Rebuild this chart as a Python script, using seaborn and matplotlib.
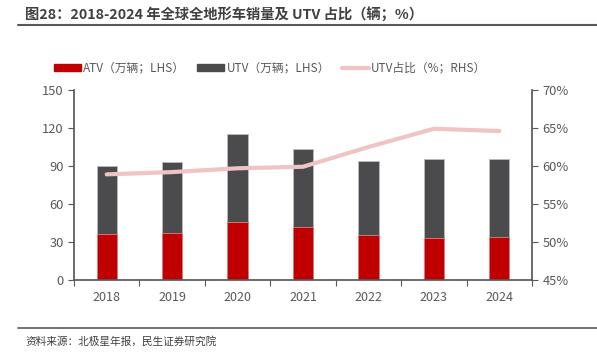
import numpy as np
import pandas as pd
import seaborn as sns
import matplotlib.pyplot as plt
from matplotlib.patches import Patch
from matplotlib.lines import Line2D
from matplotlib.ticker import FuncFormatter

# Data
years = ["2018", "2019", "2020", "2021", "2022", "2023", "2024"]
atv = [36.6, 37.4, 46.0, 41.6, 35.3, 33.2, 33.7]
total = [89.8, 92.9, 115.2, 103.1, 94.2, 95.3, 95.8]
utv_share = [58.9, 59.2, 59.7, 59.9, 62.5, 64.9, 64.6]

df = pd.DataFrame({"year": years, "atv": atv, "total": total, "share": utv_share})
df["pos"] = np.arange(len(years))

sns.set_theme(style="white")
plt.rcParams["font.family"] = ["Noto Sans CJK SC", "DejaVu Sans"]

red = "#C00000"
dark = "#4B4B4D"
pink = "#F0C4C4"
grey = "#595959"

fig = plt.figure(figsize=(5.97, 3.61), dpi=100)
ax = fig.add_axes([74 / 597, 1 - 280 / 361, (532 - 74) / 597, 190 / 361])

# stacked bars: total (UTV on top) then ATV over it
sns.barplot(data=df, x="year", y="total", color=dark, width=0.31, ax=ax,
            saturation=1, edgecolor="#BBBBBB", linewidth=0.6)
sns.barplot(data=df, x="year", y="atv", color=red, width=0.31, ax=ax,
            saturation=1, edgecolor="#E08080", linewidth=0.6)

ax.set_ylim(0, 150)
ax.set_yticks(range(0, 151, 30))
ax.set_xlim(-0.5, len(years) - 0.5)
ax.set_xlabel("")
ax.set_ylabel("")

ax2 = ax.twinx()
sns.lineplot(data=df, x="pos", y="share", color=pink, linewidth=3, ax=ax2)
ax2.set_ylim(45, 70)
ax2.set_yticks(range(45, 71, 5))
ax2.yaxis.set_major_formatter(FuncFormatter(lambda v, p: f"{v:.0f}%"))
ax2.set_xlim(-0.5, len(years) - 0.5)
ax2.set_xlabel("")
ax2.set_ylabel("")

for a in (ax, ax2):
    a.spines["top"].set_visible(False)
    a.grid(False)

ax.spines["left"].set_color(grey)
ax.spines["bottom"].set_color(grey)
ax.spines["right"].set_visible(False)
ax2.spines["right"].set_color(grey)
ax2.spines["left"].set_visible(False)
ax2.spines["bottom"].set_visible(False)

ax.tick_params(axis="y", direction="out", length=4, color=grey, labelcolor=grey,
               labelsize=9.3, left=True, width=0.8)
ax2.tick_params(axis="y", direction="out", length=4, color=grey, labelcolor=grey,
                labelsize=9.3, right=True, width=0.8)
ax.tick_params(axis="x", which="major", length=0, labelcolor=grey, labelsize=9, pad=8)
ax.set_xticks(np.arange(-0.5, len(years)), minor=True)
ax.tick_params(axis="x", which="minor", direction="out", length=4, color=grey,
               bottom=True, width=0.8)

# legend
handles = [Patch(color=red), Patch(color=dark), Line2D([], [], color=pink, linewidth=3)]
labels = ["ATV（万辆；LHS）", "UTV（万辆；LHS）", "UTV占比（%；RHS）"]
fig.legend(handles, labels, loc="center", bbox_to_anchor=(270 / 597, 1 - 68 / 361), ncol=3,
           frameon=False, fontsize=8.5, handlelength=2.3, handleheight=0.55,
           handletextpad=0.2, columnspacing=1.0, labelcolor=grey)

# title and source
fig.text(25 / 597, 1 - 15 / 361, "图28：2018-2024 年全球全地形车销量及 UTV 占比（辆；%）",
         fontsize=10.3, fontweight="bold", color="#404040", va="center", ha="left")
fig.add_artist(Line2D([18 / 597, 1], [1 - 25 / 361] * 2, color=grey, linewidth=1.5))
fig.add_artist(Line2D([18 / 597, 1], [1 - 328 / 361] * 2, color=grey, linewidth=1.2))
fig.text(25 / 597, 1 - 341 / 361, "资料来源：北极星年报，民生证券研究院",
         fontsize=7.7, color="#404040", va="center", ha="left")

fig.savefig("out.png", dpi=100)
